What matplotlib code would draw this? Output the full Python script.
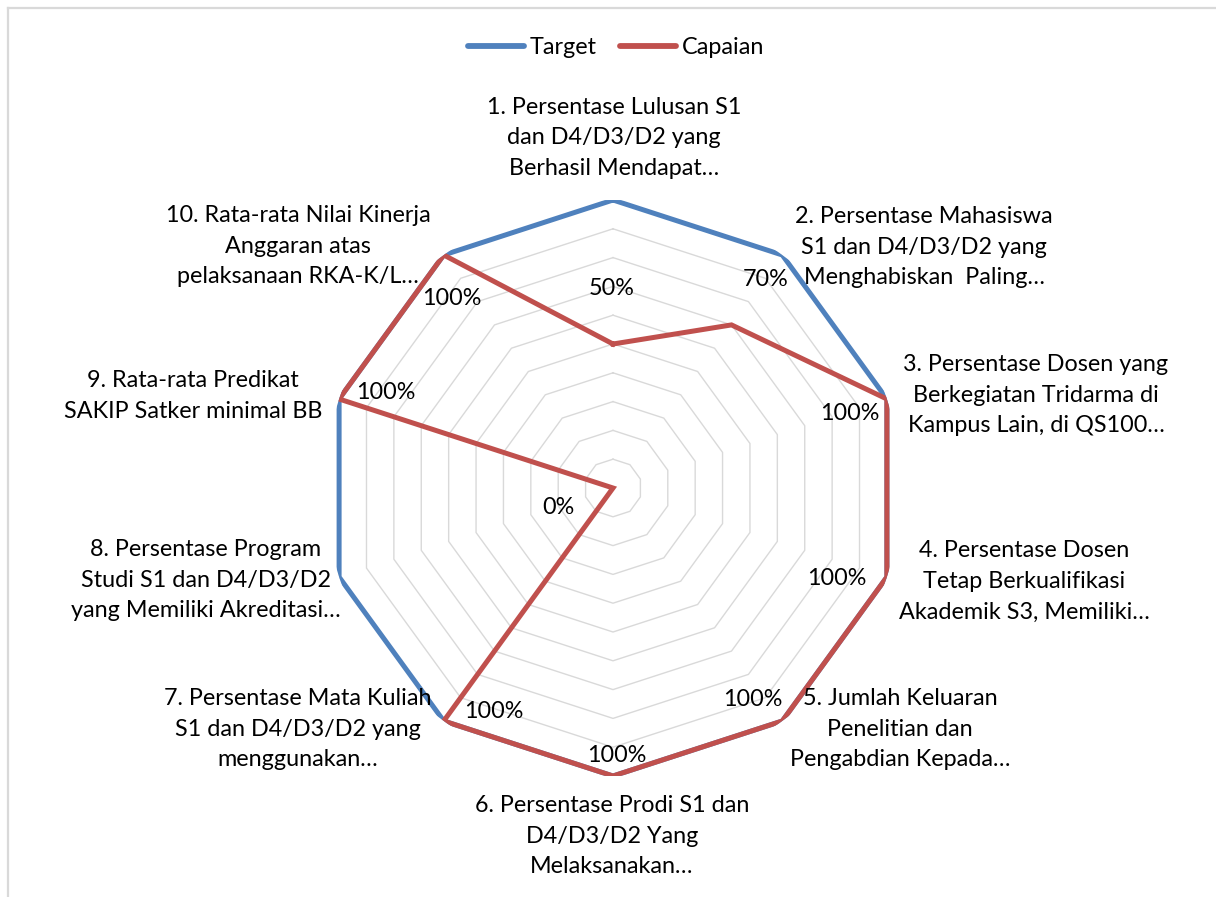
import numpy as np
import matplotlib
matplotlib.use("Agg")
import matplotlib.pyplot as plt
from matplotlib.lines import Line2D

# ---------------- data ----------------
categories = [
    "1. Persentase Lulusan S1\ndan D4/D3/D2 yang\nBerhasil Mendapat…",
    "2. Persentase Mahasiswa\nS1 dan D4/D3/D2 yang\nMenghabiskan  Paling…",
    "3. Persentase Dosen yang\nBerkegiatan Tridarma di\nKampus Lain, di QS100…",
    "4. Persentase Dosen\nTetap Berkualifikasi\nAkademik S3, Memiliki…",
    "5. Jumlah Keluaran\nPenelitian dan\nPengabdian Kepada…",
    "6. Persentase Prodi S1 dan\nD4/D3/D2 Yang\nMelaksanakan…",
    "7. Persentase Mata Kuliah\nS1 dan D4/D3/D2 yang\nmenggunakan…",
    "8. Persentase Program\nStudi S1 dan D4/D3/D2\nyang Memiliki Akreditasi…",
    "9. Rata-rata Predikat\nSAKIP Satker minimal BB",
    "10. Rata-rata Nilai Kinerja\nAnggaran atas\npelaksanaan RKA-K/L…",
]
target = [1.0, 1.0, 1.0, 1.0, 1.0, 1.0, 1.0, 1.0, 1.0, 1.0]
capaian = [0.5, 0.7, 1.0, 1.0, 1.0, 1.0, 1.0, 0.0, 1.0, 1.0]
series_names = ["Target", "Capaian"]
ring_levels = [0.1, 0.2, 0.3, 0.4, 0.5, 0.6, 0.7, 0.8, 0.9, 1.0]

# ---------------- layout / style ----------------
W, H, DPI = 1216, 897, 100
FONT = "Lato"
FS = 16.8
BLUE = "#4f81bd"
RED = "#c0504d"
GRID = "#d9d9d9"
cx, cy, R = 613, 488, 288  # pixel centre (from top) and radius

# label block centres in pixels (x, y from top)
cat_label_pos = [(614, 138), (924, 247), (1036, 395), (1024, 581), (900, 729),
                 (612, 836), (298, 729), (206, 580), (193, 396), (298, 246)]
# data label offsets in pixels (dx, dy from top)
val_label_off = [(-1, -56), (34, -45), (-37, 14), (-50, 2), (-29, -21),
                 (4, -21), (50, -9), (-55, 19), (47, -7), (8, 43)]

plt.rcParams["font.family"] = [FONT, "DejaVu Sans"]

fig = plt.figure(figsize=(W / DPI, H / DPI), dpi=DPI)
fig.patch.set_facecolor("white")

# chart-area border (only top/left visible)
fig.add_artist(Line2D([8 / W, 8 / W], [0, 1 - 8 / H], color=GRID, lw=1.6,
                      transform=fig.transFigure))
fig.add_artist(Line2D([8 / W, 1], [1 - 8 / H, 1 - 8 / H], color=GRID, lw=1.6,
                      transform=fig.transFigure))

ax = fig.add_axes([(cx - R) / W, (H - cy - R) / H, 2 * R / W, 2 * R / H],
                  projection="polar")
ax.set_theta_zero_location("N")
ax.set_theta_direction(-1)
ax.set_ylim(0, 1)
ax.grid(False)
ax.set_xticks([])
ax.set_yticks([])
ax.spines["polar"].set_visible(False)
ax.patch.set_alpha(0)

n = len(categories)
angles = np.arange(n) * 2 * np.pi / n
closed = np.append(angles, angles[0])

for lv in ring_levels:
    ax.plot(closed, [lv] * (n + 1), color=GRID, lw=1.0, zorder=1)

t_vals = np.append(target, target[0])
c_vals = np.append(capaian, capaian[0])
ax.plot(closed, t_vals, color=BLUE, lw=3.6, zorder=3, solid_joinstyle="miter",
        label=series_names[0])
ax.plot(closed, c_vals, color=RED, lw=3.6, zorder=4, solid_joinstyle="miter",
        label=series_names[1])

for a, v, (dx, dy) in zip(angles, capaian, val_label_off):
    ax.annotate(f"{v:.0%}", xy=(a, v), xytext=(dx, -dy),
                textcoords="offset pixels", ha="center", va="center",
                fontsize=FS, color="black", zorder=5, annotation_clip=False)

for lab, (px, py) in zip(categories, cat_label_pos):
    fig.text(px / W, 1 - py / H, lab, ha="center", va="center",
             multialignment="center", fontsize=FS, color="black",
             linespacing=1.58)

handles = [Line2D([], [], color=BLUE, lw=4.2, solid_capstyle="round"),
           Line2D([], [], color=RED, lw=4.2, solid_capstyle="round")]
fig.legend(handles, series_names, loc="center",
           bbox_to_anchor=(616 / W, 1 - 48 / H), ncol=2, frameon=False,
           fontsize=FS, handlelength=2.4, handletextpad=0.25,
           columnspacing=1.0)

fig.savefig("out.png", dpi=DPI, facecolor="white")
